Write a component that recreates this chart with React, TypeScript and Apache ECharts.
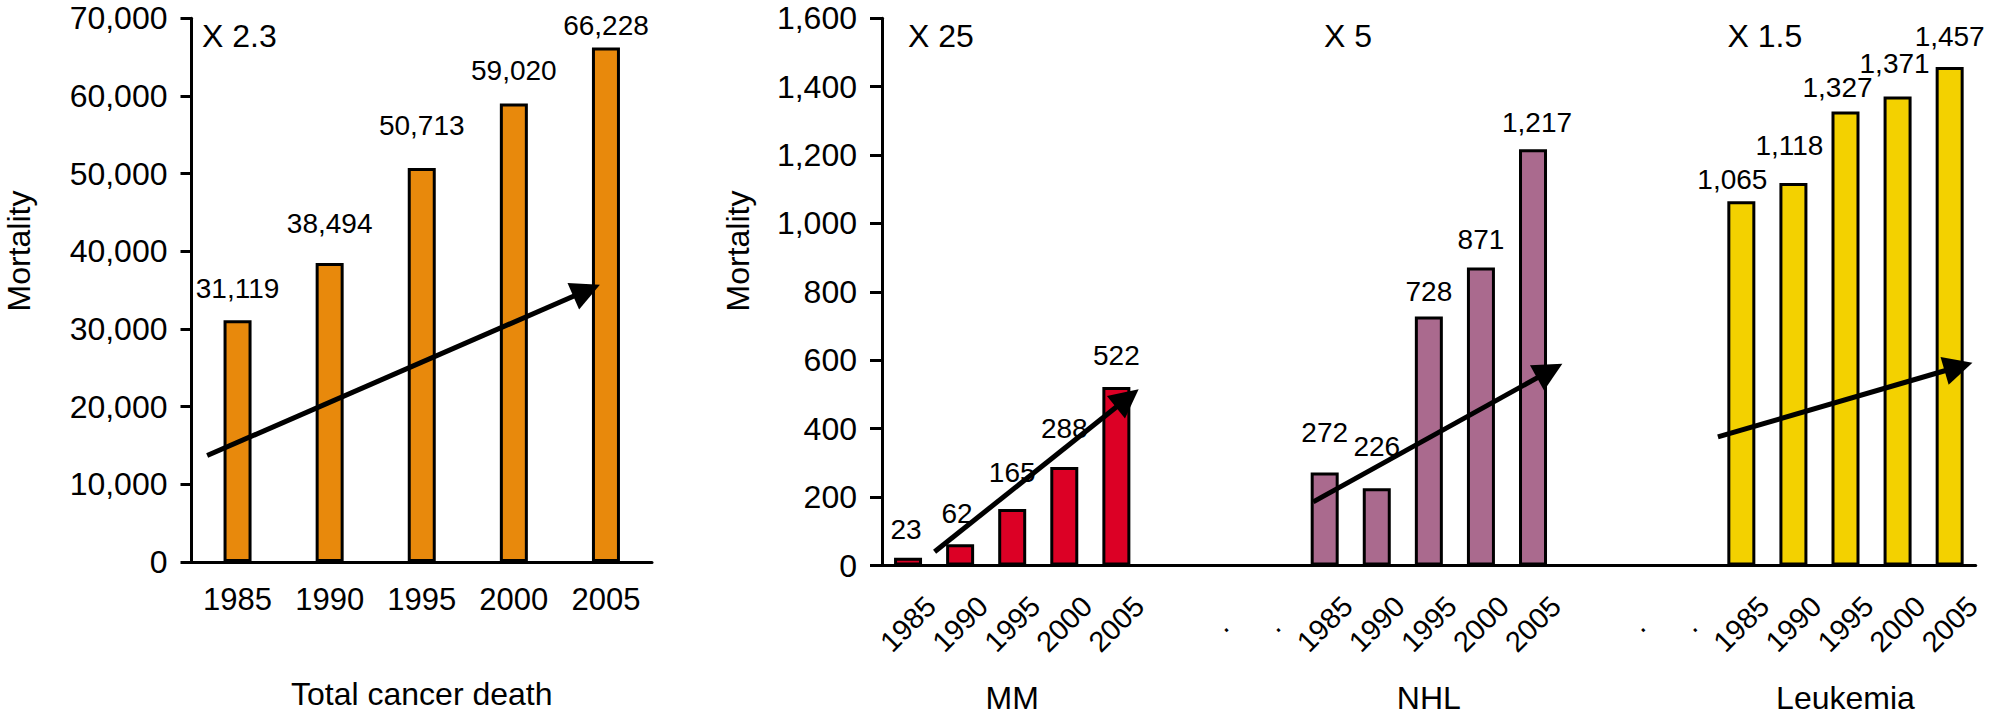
import React, { useEffect, useRef } from "react";
import * as echarts from "echarts";

// ---- data ----
const years = ["1985", "1990", "1995", "2000", "2005"];
const totalDeaths = [31119, 38494, 50713, 59020, 66228];
const mmValues = [23, 62, 165, 288, 522];
const nhlValues = [272, 226, 728, 871, 1217];
const leukemiaValues = [1065, 1118, 1327, 1371, 1457];
const groupNames = ["MM", "NHL", "Leukemia"];
const gapCategories = ["", ".", "."];
const foldLabels = ["X 2.3", "X 25", "X 5", "X 1.5"];
// trend arrows: [category position, value] start -> end
const totalArrow = [[-0.33, 13700], [3.79, 34950]];
const mmArrow = [[0.51, 40], [4.21, 489]];
const nhlArrow = [[7.78, 186], [12.32, 569]];
const leukemiaArrow = [[15.55, 376], [20.17, 581]];

// ---- styles (label placement tweaks) ----
const totalLift = [18, 25, 29, 19, 8.5];
const mmLift = [14.5, 17, 23, 24.5, 17];
const nhlLift = [26, 28, 11, 14, 13];
const leukLift = [8, 24, 10, 19, 16.5];
const mmShift = [-2, -3, 0, 0, 0];
const nhlShift = [0, 0, 0, 0, 4];
const leukShift = [-9, -4, -8, -3, 0];

const FONT = "'Liberation Sans', Arial, Helvetica, sans-serif";
const BLACK = "#000";

const rightCategories = [...years, ...gapCategories, ...years, ...gapCategories, ...years];
const groupStarts = [0, years.length + gapCategories.length, 2 * (years.length + gapCategories.length)];
const groupAxisLabels = rightCategories.map((_, i) => {
  const g = groupStarts.findIndex((s) => i === s + Math.floor(years.length / 2));
  return g >= 0 ? groupNames[g] : "";
});

function slot(values: number[], groupIdx: number, lifts: number[], shifts: number[]) {
  const arr: any[] = rightCategories.map(() => "-");
  values.forEach((v, i) => {
    arr[groupStarts[groupIdx] + i] = {
      value: v,
      label: { distance: lifts[i], offset: [shifts[i], 0] },
    };
  });
  return arr;
}

const fmt = (v: number) => v.toLocaleString("en-US");

export default function App() {
  const ref = useRef<HTMLDivElement>(null);
  useEffect(() => {
    if (!ref.current) return;
    const chart = echarts.init(ref.current, undefined, { renderer: "svg" });
    const top = 18.2;
    const height = 547.3;
    const axisLine = { onZero: false, lineStyle: { color: BLACK, width: 3 } };
    const barLabel = {
      show: true,
      position: "top",
      color: BLACK,
      fontSize: 28,
      fontFamily: FONT,
      formatter: (p: any) => fmt(p.value),
    };
    const barItem = (color: string) => ({ color, borderColor: BLACK, borderWidth: 3 });
    const arrowStyle = {
      silent: true,
      symbol: ["none", "triangle"],
      symbolSize: [29, 29],
      label: { show: false },
      lineStyle: { color: BLACK, width: 5, type: "solid" },
      emphasis: { disabled: true },
      itemStyle: { color: BLACK },
    };
    const toLine = (a: number[][]) => [{ coord: a[0] }, { coord: a[1] }];

    chart.setOption({
      animation: false,
      textStyle: { fontFamily: FONT, color: BLACK },
      grid: [
        { left: 191.5, top, width: 460.5, height },
        { left: 882, top, width: 1093.7, height },
      ],
      xAxis: [
        {
          type: "category",
          gridIndex: 0,
          data: years,
          axisLine,
          axisTick: { length: 12.5, lineStyle: { color: BLACK, width: 3 } },
          axisLabel: { color: BLACK, fontSize: 31, margin: 37, verticalAlign: "middle", fontFamily: FONT },
          name: "Total cancer death",
          nameLocation: "middle",
          nameGap: 116,
          nameTextStyle: { fontSize: 32, color: BLACK, fontFamily: FONT },
        },
        {
          type: "category",
          gridIndex: 1,
          data: rightCategories,
          axisLine,
          axisTick: { length: 12.5, interval: 0, lineStyle: { color: BLACK, width: 3 } },
          axisLabel: {
            color: BLACK,
            fontSize: 29,
            rotate: 45,
            interval: 0,
            align: "center",
            verticalAlign: "middle",
            margin: 58.5,
            fontFamily: FONT,
          },
        },
        {
          type: "category",
          gridIndex: 1,
          position: "bottom",
          data: groupAxisLabels,
          axisLine: { show: false, onZero: false },
          axisTick: { show: false },
          axisLabel: {
            color: BLACK,
            fontSize: 32,
            interval: 0,
            margin: 132.5,
            verticalAlign: "middle",
            fontFamily: FONT,
          },
        },
        { type: "value", gridIndex: 0, min: -0.5, max: 4.5, show: false, axisLine: { onZero: false } },
        {
          type: "value",
          gridIndex: 1,
          min: -0.5,
          max: rightCategories.length - 0.5,
          show: false,
          axisLine: { onZero: false },
        },
      ],
      yAxis: [
        {
          type: "value",
          gridIndex: 0,
          min: 0,
          max: 70000,
          interval: 10000,
          axisLine: { show: true, ...axisLine },
          axisTick: { show: true, length: 11, lineStyle: { color: BLACK, width: 3 } },
          axisLabel: { color: BLACK, fontSize: 32, margin: 24, formatter: fmt, fontFamily: FONT },
          splitLine: { show: false },
        },
        {
          type: "value",
          gridIndex: 1,
          min: 0,
          max: 1600,
          interval: 200,
          axisLine: { show: true, ...axisLine },
          axisTick: { show: true, length: 12, lineStyle: { color: BLACK, width: 3 } },
          axisLabel: { color: BLACK, fontSize: 32, margin: 25, formatter: fmt, fontFamily: FONT },
          splitLine: { show: false },
        },
      ],
      series: [
        {
          type: "bar",
          xAxisIndex: 0,
          yAxisIndex: 0,
          barWidth: 28,
          itemStyle: barItem("#E8890C"),
          label: barLabel,
          data: totalDeaths.map((v, i) => ({ value: v, label: { distance: totalLift[i] } })),
        },
        {
          type: "bar",
          name: groupNames[0],
          xAxisIndex: 1,
          yAxisIndex: 1,
          barWidth: 28,
          barGap: "-100%",
          itemStyle: barItem("#DC0025"),
          label: barLabel,
          data: slot(mmValues, 0, mmLift, mmShift),
        },
        {
          type: "bar",
          name: groupNames[1],
          xAxisIndex: 1,
          yAxisIndex: 1,
          barWidth: 28,
          barGap: "-100%",
          itemStyle: barItem("#AA6A8E"),
          label: barLabel,
          data: slot(nhlValues, 1, nhlLift, nhlShift),
        },
        {
          type: "bar",
          name: groupNames[2],
          xAxisIndex: 1,
          yAxisIndex: 1,
          barWidth: 28,
          barGap: "-100%",
          itemStyle: barItem("#F3D100"),
          label: barLabel,
          data: slot(leukemiaValues, 2, leukLift, leukShift),
        },
        {
          type: "line",
          xAxisIndex: 3,
          yAxisIndex: 0,
          data: [],
          markLine: { ...arrowStyle, data: [toLine(totalArrow)] },
        },
        {
          type: "line",
          xAxisIndex: 4,
          yAxisIndex: 1,
          data: [],
          markLine: {
            ...arrowStyle,
            data: [toLine(mmArrow), toLine(nhlArrow), toLine(leukemiaArrow)],
          },
        },
      ],
      graphic: [
        ...[19, 738].map((x) => ({
          type: "text",
          x,
          y: 251,
          rotation: Math.PI / 2,
          silent: true,
          style: { text: "Mortality", fontSize: 32, fontFamily: FONT, fill: BLACK, align: "center", verticalAlign: "middle" },
        })),
        ...[202, 908, 1324, 1727.5].map((x, i) => ({
          type: "text",
          x,
          y: 35.5,
          silent: true,
          style: { text: foldLabels[i], fontSize: 32, fontFamily: FONT, fill: BLACK, align: "left", verticalAlign: "middle" },
        })),
      ],
    });
    return () => chart.dispose();
  }, []);
  return (
    <div
      ref={ref}
      style={{ position: "fixed", left: 0, top: 0, width: 1991, height: 715, background: "#fff" }}
    />
  );
}
